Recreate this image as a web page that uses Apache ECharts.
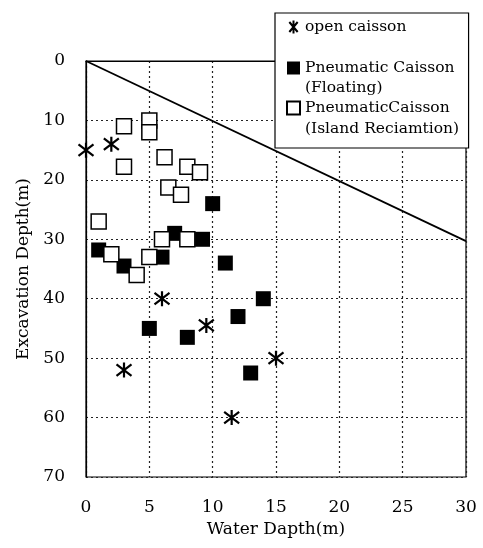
<!DOCTYPE html>
<html lang="en">
<head>
    <meta charset="UTF-8">
    <title>Excavation Depth vs Water Depth</title>
    <script src="https://cdn.jsdelivr.net/npm/echarts@6/dist/echarts.min.js"></script>
    <style>
        html, body { margin: 0; padding: 0; background: #fff; }
    </style>
</head>
<body>
<div id="chart" style="width:483px;height:548px;"></div>
<script>
    // [water depth, excavation depth]
    var openCaisson = [[0, 15], [2, 14], [6, 40], [9.5, 44.5], [15, 50], [3, 52], [11.5, 60]];
    var floating = [[1, 31.8], [3, 34.5], [5, 45], [6, 33], [7, 29], [9.2, 30], [10, 24],
                    [8, 46.5], [11, 34], [12, 43], [14, 40], [13, 52.5]];
    var island = [[3, 11], [5, 10], [5, 12], [3, 17.8], [6.2, 16.2], [8, 17.8], [9, 18.7],
                  [6.5, 21.3], [7.5, 22.5], [1, 27], [2, 32.5], [4, 36], [5, 33], [6, 30], [8, 30]];
    var limitLine = [[0, 0], [30, 30.3]];

    var serif = 'DejaVu Serif';
    var star = 'path://M0,-10L0,10M-6.4,-7.7L6.4,7.7M-6.4,7.7L6.4,-7.7';

    var chart = echarts.init(document.getElementById('chart'));
    chart.setOption({
        animation: false,
        grid: {
            left: 86, right: 17, top: 61, bottom: 71,
            show: true, borderColor: '#000', borderWidth: 1.2
        },
        legend: {
            data: ['open caisson', 'Pneumatic Caisson', 'PneumaticCaisson'],
            orient: 'vertical',
            left: 275, top: 13,
            padding: [5, 14, 32, 11],
            itemGap: 24,
            itemWidth: 13, itemHeight: 13,
            backgroundColor: '#fff',
            borderColor: '#000', borderWidth: 1.2,
            textStyle: { fontFamily: serif, fontSize: 15.5, color: '#000' }
        },
        graphic: [
            { type: 'text', left: 305, top: 80, z: 100,
              style: { text: '(Floating)', font: '15.5px "DejaVu Serif"', fill: '#000' } },
            { type: 'text', left: 305, top: 121, z: 100,
              style: { text: '(Island Reciamtion)', font: '15.5px "DejaVu Serif"', fill: '#000' } }
        ],
        xAxis: {
            type: 'value', min: 0, max: 30, interval: 5,
            name: 'Water Dapth(m)', nameLocation: 'middle', nameGap: 44,
            nameTextStyle: { fontFamily: serif, fontSize: 17, color: '#000' },
            axisLine: { lineStyle: { color: '#000', width: 1.2 } },
            axisTick: { show: false },
            axisLabel: { margin: 22, fontFamily: serif, fontSize: 17, color: '#000' },
            splitLine: { lineStyle: { color: '#222', type: [2, 3], width: 1.2 } }
        },
        yAxis: {
            type: 'value', min: 0, max: 70, interval: 10, inverse: true,
            name: 'Excavation Depth(m)', nameLocation: 'middle', nameGap: 52,
            nameTextStyle: { fontFamily: serif, fontSize: 17, color: '#000' },
            axisLine: { lineStyle: { color: '#000', width: 1.2 } },
            axisTick: { show: false },
            axisLabel: { margin: 21, fontFamily: serif, fontSize: 17, color: '#000' },
            splitLine: { lineStyle: { color: '#222', type: [2, 3], width: 1.2 } }
        },
        series: [
            {
                name: 'limit', type: 'line', data: limitLine, showSymbol: false,
                lineStyle: { color: '#000', width: 1.8 }, z: 1
            },
            {
                name: 'open caisson', type: 'scatter', data: openCaisson,
                symbol: star, symbolSize: 15,
                itemStyle: { color: 'none', borderColor: '#000', borderWidth: 2.2, opacity: 1 }
            },
            {
                name: 'Pneumatic Caisson', type: 'scatter', data: floating,
                symbol: 'rect', symbolSize: 15,
                itemStyle: { color: '#000', opacity: 1 }
            },
            {
                name: 'PneumaticCaisson', type: 'scatter', data: island,
                symbol: 'rect', symbolSize: 15,
                itemStyle: { color: '#fff', borderColor: '#000', borderWidth: 1.5, opacity: 1 }
            }
        ]
    });
</script>
</body>
</html>
